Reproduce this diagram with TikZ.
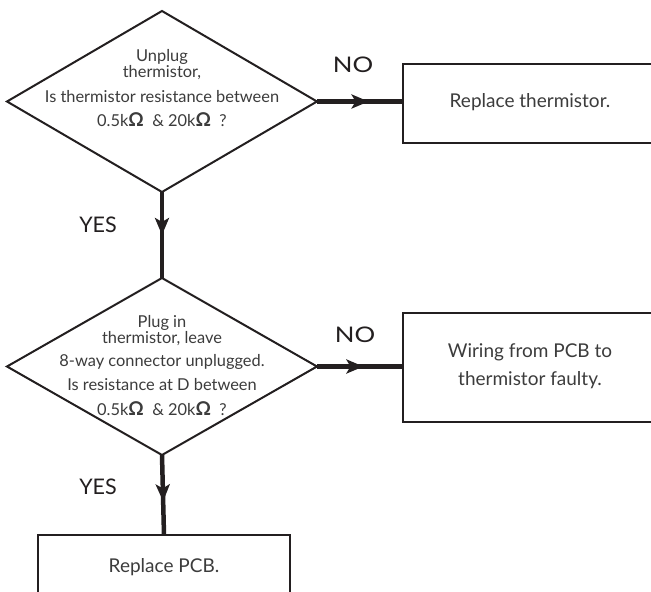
\documentclass[tikz,border=0pt]{standalone}
\usepackage{fontspec}
\setmainfont{Lato}
\usetikzlibrary{shapes.geometric,arrows.meta,decorations.markings}
\definecolor{ink}{HTML}{231F20}
\definecolor{txt}{HTML}{3C3C3C}
\tikzset{
  decision/.style={diamond,draw=ink,line width=2pt,minimum width=310pt,minimum height=#1,inner sep=0pt,outer sep=0pt},
  actbox/.style={rectangle,draw=ink,line width=2.6pt,inner sep=0pt,outer sep=0pt},
  qtext/.style={text=txt,font=\fontsize{16.4}{18}\selectfont,align=center,inner sep=0pt},
  btext/.style={text=txt,font=\fontsize{19}{28}\selectfont,align=center,inner sep=0pt},
  answer/.style={text=ink,font=\fontsize{21.5}{24}\selectfont,inner sep=0pt},
  conn/.style={draw=ink,line width=4.5pt,postaction={decorate},
    decoration={markings,mark=at position #1 with {\arrow{Stealth[length=17pt,width=14pt,inset=4pt]}}}},
}
\newcommand{\ohm}{{\fontsize{19}{19}\selectfont\bfseries Ω}}
\begin{document}
\begin{tikzpicture}[x=1pt,y=-1pt]
\clip (0,0) rectangle (651,592);
\fill[white] (0,0) rectangle (651,592);
% shapes
\node[decision=181pt] (d1) at (162,101.5) {};
\node[decision=177pt] (d2) at (162,366.5) {};
\node[actbox,minimum width=254pt,minimum height=79pt] (b1) at (530,103.5) {};
\node[actbox,minimum width=254pt,minimum height=109pt] (b2) at (530,367.5) {};
\node[actbox,minimum width=252pt,minimum height=64pt] (b3) at (164,567) {};
% connectors
\draw[conn=0.6] (d1.east) -- (b1.west |- d1.east);
\draw[conn=0.5] (d1.south) -- (d2.north);
\draw[conn=0.54] (d2.east) -- (b2.west |- d2.east);
\draw[conn=0.58] (d2.south) -- (b3.north);
% texts of the decisions
\node[qtext] (q1a) at (162,57) {Unplug};
\node[qtext] (q1b) at (162,73) {thermistor,};
\node[qtext] (q1c) at (162,97) {Is thermistor resistance between};
\node[qtext] (q1d) at (162,119.5) {0.5k\ohm\ \ \& 20k\ohm\ \ ?};
\node[qtext] (q2a) at (162,323) {Plug in};
\node[qtext] (q2b) at (162,339) {thermistor, leave};
\node[qtext] (q2c) at (162,362) {8-way connector unplugged.};
\node[qtext] (q2d) at (162,385) {Is resistance at D between};
\node[qtext] (q2e) at (162,408.5) {0.5k\ohm\ \ \& 20k\ohm\ \ ?};
% texts of the boxes
\node[btext] (t1) at (530,102) {Replace thermistor.};
\node[btext] (t2) at (530,366) {Wiring from PCB to\\thermistor faulty.};
\node[btext] (t3) at (164,567) {Replace PCB.};
% answers
\node[answer] (no1) at (353,65) {\scalebox{1.2}[1]{NO}};
\node[answer] (yes1) at (98,225) {YES};
\node[answer] (no2) at (355,335) {\scalebox{1.2}[1]{NO}};
\node[answer] (yes2) at (98,487) {YES};
\end{tikzpicture}
\end{document}
